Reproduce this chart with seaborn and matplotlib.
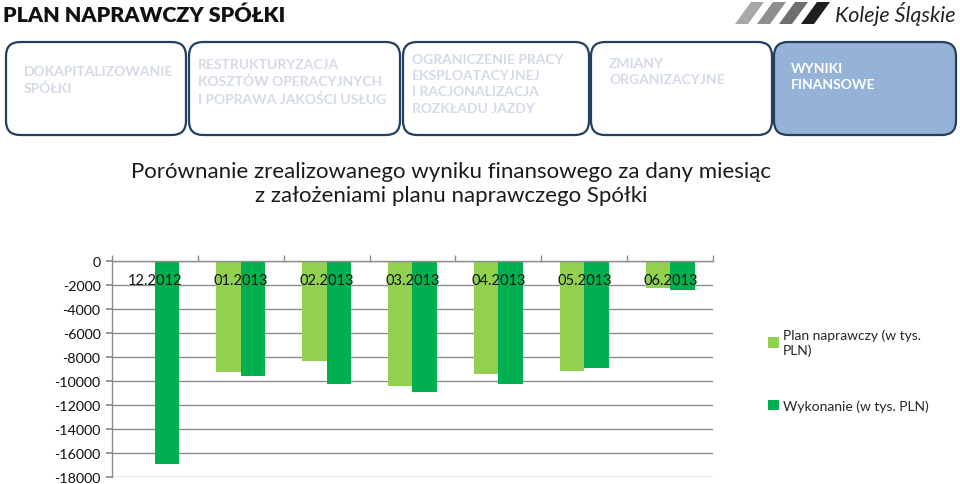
import matplotlib
matplotlib.use("Agg")
import matplotlib.pyplot as plt
import seaborn as sns
import pandas as pd
import numpy as np
from matplotlib.patches import FancyBboxPatch, Polygon, Patch
from matplotlib.ticker import FixedLocator

# ---- data ----
categories = ["12.2012", "01.2013", "02.2013", "03.2013", "04.2013", "05.2013", "06.2013"]
plan_values = [0, -9230, -8350, -10450, -9450, -9180, -2270]
actual_values = [-16900, -9620, -10280, -10950, -10230, -8900, -2430]
series_names = ["Plan naprawczy (w tys.\nPLN)", "Wykonanie (w tys. PLN)"]
y_ticks = list(range(0, -18001, -2000))
tabs = [
    "DOKAPITALIZOWANIE\nSPÓŁKI",
    "RESTRUKTURYZACJA\nKOSZTÓW OPERACYJNYCH\nI POPRAWA JAKOŚCI USŁUG",
    "OGRANICZENIE PRACY\nEKSPLOATACYJNEJ\nI RACJONALIZACJA\nROZKŁADU JAZDY",
    "ZMIANY\nORGANIZACYJNE",
    "WYNIKI\nFINANSOWE",
]
page_title = "PLAN NAPRAWCZY SPÓŁKI"
chart_title = "Porównanie zrealizowanego wyniku finansowego za dany miesiąc\nz założeniami planu naprawczego Spółki"
logo_text = "Koleje Śląskie"

sns.set_theme(style="white")
plt.rcParams["font.family"] = ["Lato", "DejaVu Sans"]
plt.rcParams["axes.unicode_minus"] = False

W, H = 960, 485
fig = plt.figure(figsize=(W / 100, H / 100), dpi=100)
fig.patch.set_facecolor("white")

# ---- header overlay (pixel coordinates) ----
ov = fig.add_axes([0, 0, 1, 1])
ov.set_xlim(0, W)
ov.set_ylim(H, 0)
ov.axis("off")

ov.text(3, 15, page_title, fontsize=15.4, fontweight="heavy", color="#111111",
        va="center", ha="left")

# logo stripes
stripe_cols = ["#A8A8A8", "#8E8E8E", "#6E6E6E", "#1E1E1E"]
for i, c in enumerate(stripe_cols):
    x0 = 735 + i * 22
    ov.add_patch(Polygon([(x0, 25), (x0 + 13, 25), (x0 + 29, 3), (x0 + 16, 3)],
                         closed=True, facecolor=c, edgecolor="none"))
ov.text(835, 14, logo_text, fontsize=15.5, style="italic", color="#222222",
        va="center", ha="left")

# tabs
tab_x = [5, 188, 402, 590, 773]
tab_r = [187, 401, 590, 773, 957]
tab_text_x = [24, 198, 412, 609, 791]
tab_text_y = [66, 59, 54, 58, 63]
for i, t in enumerate(tabs):
    active = (i == len(tabs) - 1)
    ov.add_patch(FancyBboxPatch((tab_x[i] + 1, 43), tab_r[i] - tab_x[i] - 2, 93,
                                boxstyle="round,pad=0,rounding_size=14",
                                facecolor="#95B3D7" if active else "white",
                                edgecolor="#243F60", linewidth=1.6))
    ov.text(tab_text_x[i], tab_text_y[i], t, fontsize=10, fontweight="bold",
            color="white" if active else "#D4DAE6", va="top", ha="left",
            linespacing=1.42)

ov.text(451, 184, chart_title, fontsize=16, color="#1a1a1a",
        ha="center", va="center", linespacing=1.28)

# ---- chart ----
df = pd.DataFrame({
    "Miesiąc": categories * 2,
    "Wartość": plan_values + actual_values,
    "Seria": [series_names[0]] * len(categories) + [series_names[1]] * len(categories),
})
colors = ["#92D050", "#00B050"]

ax = fig.add_axes([111.7 / W, 1 - 478 / H, (713.3 - 111.7) / W, (478 - 262) / H])
sns.barplot(data=df, x="Miesiąc", y="Wartość", hue="Seria", palette=colors,
            width=0.575, linewidth=0, saturation=1, ax=ax, legend=False)
ax.set_xlim(-0.5, len(categories) - 0.5)
ax.set_ylim(-18000, 0)
ax.set_xlabel("")
ax.set_ylabel("")
ax.set_yticks(y_ticks)
ax.set_yticklabels([str(v) for v in y_ticks], fontsize=10.3, color="#111111")
ax.yaxis.grid(True, color="#8C8C8C", linewidth=1)
ax.set_axisbelow(True)
for s in ["right", "bottom"]:
    ax.spines[s].set_visible(False)
for s in ["left", "top"]:
    ax.spines[s].set_color("#8C8C8C")
    ax.spines[s].set_linewidth(1)
ax.tick_params(axis="y", length=4, color="#8C8C8C", left=True, pad=4)

ax.xaxis.tick_top()
ax.set_xticks(range(len(categories)))
ax.set_xticklabels(categories, fontsize=10.5, color="#111111")
ax.xaxis.set_minor_locator(FixedLocator(np.arange(-0.5, len(categories), 1.0)))
ax.tick_params(axis="x", which="major", length=0, pad=-19, top=True, labeltop=True,
               bottom=False, labelbottom=False)
ax.tick_params(axis="x", which="minor", length=4, color="#8C8C8C", top=True,
               direction="out", bottom=False)
ax.xaxis.set_zorder(5)

handles = [Patch(facecolor=c, edgecolor="none") for c in colors]
fig.legend(handles, series_names, loc="upper left",
           bbox_to_anchor=(761 / W, 1 - 323 / H), frameon=False, fontsize=10,
           handlelength=0.8, handleheight=0.8, handletextpad=0.3,
           labelspacing=3.1, borderpad=0)

fig.savefig("out.png", dpi=100, facecolor="white")
